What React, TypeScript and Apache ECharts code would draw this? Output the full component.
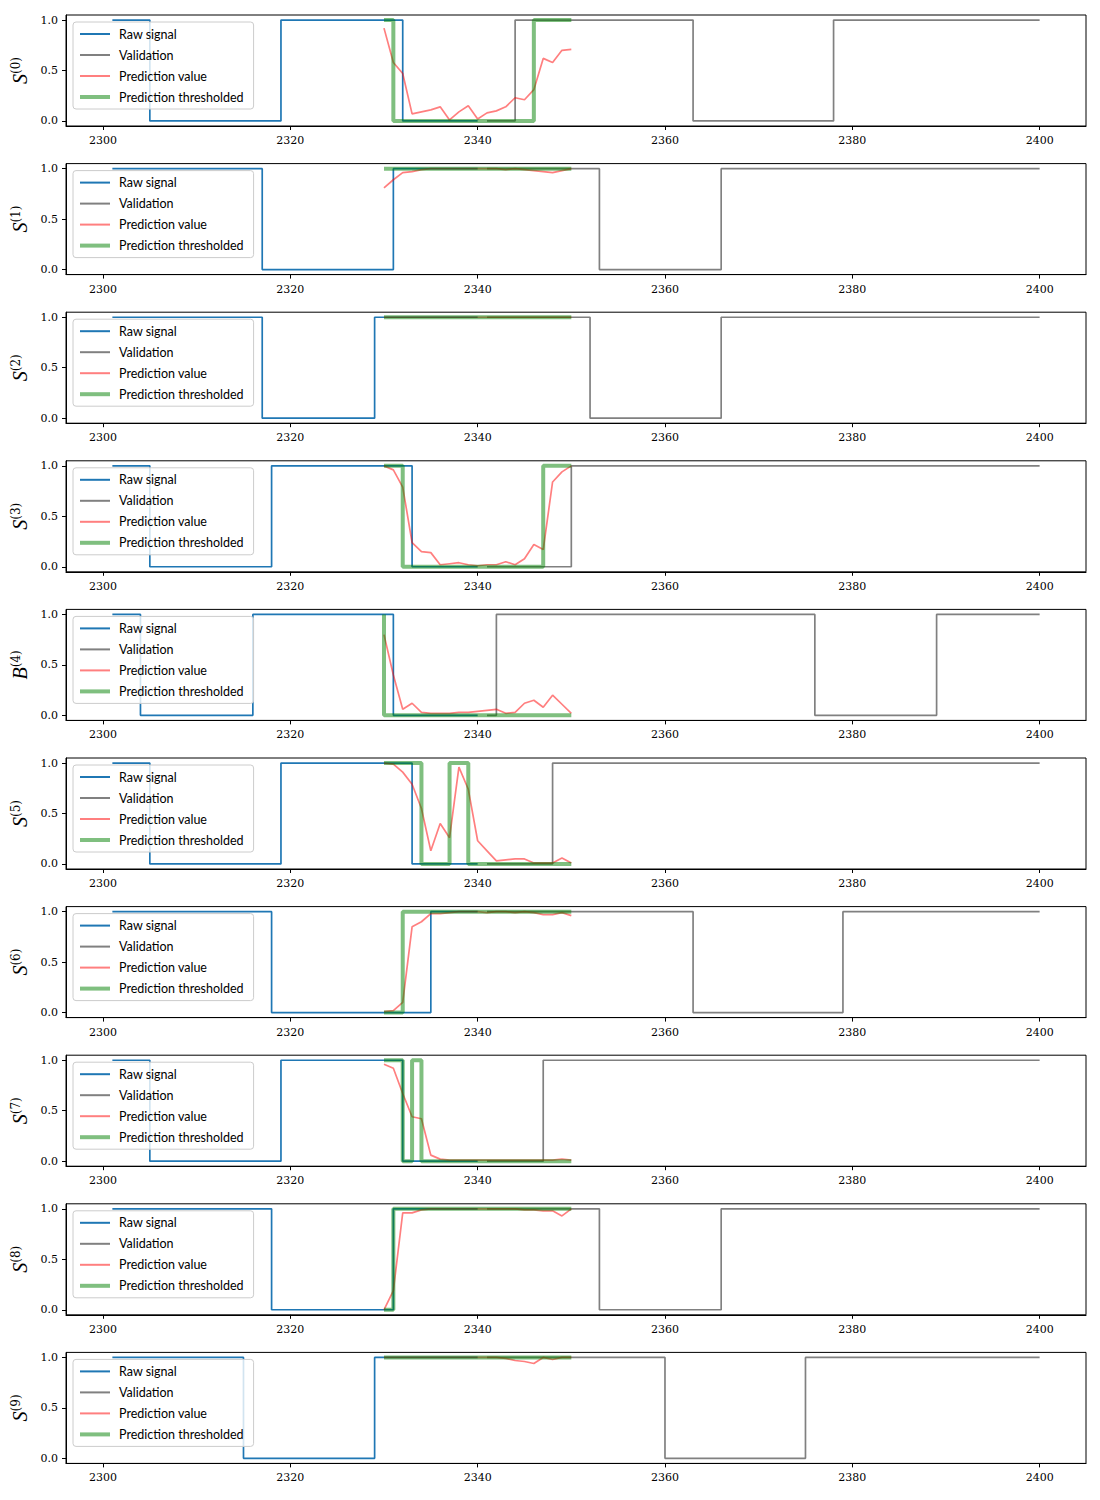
import React, { useEffect, useRef } from "react";
import * as echarts from "echarts";

const SERIES_NAMES = ["Raw signal", "Validation", "Prediction value", "Prediction thresholded"];
const X_TICKS = [2300, 2320, 2340, 2360, 2380, 2400];
const Y_TICKS = [0, 0.5, 1];
const PANEL_LETTERS = ["S", "S", "S", "S", "B", "S", "S", "S", "S", "S"];
const PANEL_INDICES = ["0", "1", "2", "3", "4", "5", "6", "7", "8", "9"];

// Raw signal: change points [x, level], held until next point
const RAW_STEPS: number[][][] = [
  [[2301, 1], [2305, 0], [2319, 1], [2332, 0], [2340, 0]],
  [[2301, 1], [2317, 0], [2331, 1], [2340, 1]],
  [[2301, 1], [2317, 0], [2329, 1], [2340, 1]],
  [[2301, 1], [2305, 0], [2318, 1], [2333, 0], [2340, 0]],
  [[2301, 1], [2304, 0], [2316, 1], [2331, 0], [2340, 0]],
  [[2301, 1], [2305, 0], [2319, 1], [2333, 0], [2340, 0]],
  [[2301, 1], [2318, 0], [2335, 1], [2340, 1]],
  [[2301, 1], [2305, 0], [2319, 1], [2332, 0], [2340, 0]],
  [[2301, 1], [2318, 0], [2331, 1], [2340, 1]],
  [[2301, 1], [2315, 0], [2329, 1], [2340, 1]],
];

// Validation: change points [x, level]
const VALIDATION_STEPS: number[][][] = [
  [[2341, 0], [2344, 1], [2363, 0], [2378, 1], [2400, 1]],
  [[2341, 1], [2353, 0], [2366, 1], [2400, 1]],
  [[2341, 1], [2352, 0], [2366, 1], [2400, 1]],
  [[2341, 0], [2350, 1], [2400, 1]],
  [[2341, 0], [2342, 1], [2376, 0], [2389, 1], [2400, 1]],
  [[2341, 0], [2348, 1], [2400, 1]],
  [[2341, 1], [2363, 0], [2379, 1], [2400, 1]],
  [[2341, 0], [2347, 1], [2400, 1]],
  [[2341, 1], [2353, 0], [2366, 1], [2400, 1]],
  [[2341, 1], [2360, 0], [2375, 1], [2400, 1]],
];

const PRED_X = [2330, 2331, 2332, 2333, 2334, 2335, 2336, 2337, 2338, 2339, 2340,
  2341, 2342, 2343, 2344, 2345, 2346, 2347, 2348, 2349, 2350];

const PRED_VALUE: number[][] = [
  [0.92, 0.58, 0.47, 0.07, 0.09, 0.11, 0.14, 0.01, 0.09, 0.15, 0.02, 0.08, 0.10, 0.14, 0.23, 0.21, 0.31, 0.62, 0.58, 0.70, 0.71],
  [0.81, 0.89, 0.96, 0.97, 0.99, 1.0, 1.0, 1.0, 1.0, 1.0, 1.0, 1.0, 1.0, 0.99, 1.0, 0.99, 0.98, 0.97, 0.96, 0.98, 1.0],
  [1.0, 1.0, 1.0, 1.0, 1.0, 1.0, 1.0, 1.0, 1.0, 1.0, 1.0, 1.0, 1.0, 1.0, 1.0, 1.0, 1.0, 1.0, 1.0, 1.0, 1.0],
  [1.0, 0.96, 0.79, 0.24, 0.15, 0.14, 0.02, 0.03, 0.04, 0.02, 0.01, 0.02, 0.02, 0.05, 0.02, 0.08, 0.22, 0.17, 0.84, 0.94, 1.0],
  [0.80, 0.40, 0.06, 0.12, 0.03, 0.02, 0.02, 0.02, 0.03, 0.03, 0.04, 0.05, 0.06, 0.02, 0.03, 0.12, 0.15, 0.08, 0.20, 0.11, 0.02],
  [1.0, 0.99, 0.91, 0.79, 0.55, 0.13, 0.40, 0.26, 0.96, 0.74, 0.23, 0.13, 0.03, 0.04, 0.05, 0.05, 0.01, 0.01, 0.01, 0.06, 0.01],
  [0.01, 0.02, 0.10, 0.85, 0.90, 0.98, 0.98, 0.99, 1.0, 1.0, 1.0, 0.99, 1.0, 1.0, 0.99, 1.0, 0.99, 0.97, 0.97, 0.99, 0.96],
  [0.96, 0.92, 0.67, 0.44, 0.42, 0.06, 0.02, 0.01, 0.01, 0.01, 0.01, 0.01, 0.01, 0.01, 0.01, 0.01, 0.01, 0.01, 0.01, 0.02, 0.01],
  [0.0, 0.19, 0.96, 0.96, 0.99, 1.0, 1.0, 1.0, 1.0, 1.0, 1.0, 1.0, 1.0, 1.0, 1.0, 0.99, 0.99, 0.98, 0.98, 0.93, 1.0],
  [1.0, 1.0, 1.0, 1.0, 1.0, 1.0, 1.0, 1.0, 1.0, 1.0, 1.0, 1.0, 1.0, 0.99, 0.97, 0.96, 0.94, 1.0, 0.98, 1.0, 1.0],
];

const PRED_THRESH: number[][] = [
  [1, 1, 0, 0, 0, 0, 0, 0, 0, 0, 0, 0, 0, 0, 0, 0, 0, 1, 1, 1, 1],
  [1, 1, 1, 1, 1, 1, 1, 1, 1, 1, 1, 1, 1, 1, 1, 1, 1, 1, 1, 1, 1],
  [1, 1, 1, 1, 1, 1, 1, 1, 1, 1, 1, 1, 1, 1, 1, 1, 1, 1, 1, 1, 1],
  [1, 1, 1, 0, 0, 0, 0, 0, 0, 0, 0, 0, 0, 0, 0, 0, 0, 0, 1, 1, 1],
  [1, 0, 0, 0, 0, 0, 0, 0, 0, 0, 0, 0, 0, 0, 0, 0, 0, 0, 0, 0, 0],
  [1, 1, 1, 1, 1, 0, 0, 0, 1, 1, 0, 0, 0, 0, 0, 0, 0, 0, 0, 0, 0],
  [0, 0, 0, 1, 1, 1, 1, 1, 1, 1, 1, 1, 1, 1, 1, 1, 1, 1, 1, 1, 1],
  [1, 1, 1, 0, 1, 0, 0, 0, 0, 0, 0, 0, 0, 0, 0, 0, 0, 0, 0, 0, 0],
  [0, 0, 1, 1, 1, 1, 1, 1, 1, 1, 1, 1, 1, 1, 1, 1, 1, 1, 1, 1, 1],
  [1, 1, 1, 1, 1, 1, 1, 1, 1, 1, 1, 1, 1, 1, 1, 1, 1, 1, 1, 1, 1],
];

const COLORS = ["#1f77b4", "#808080", "#ff0000", "#008000"];
const LINE_WIDTHS = [1.7, 1.7, 1.7, 4];
const LINE_OPACITY = [1, 1, 0.5, 0.5];
const TICK_FONT = "DejaVu Serif";
const LEGEND_FONT = "Lato";

function buildOption() {
  const grids: any[] = [];
  const xAxes: any[] = [];
  const yAxes: any[] = [];
  const legends: any[] = [];
  const series: any[] = [];
  const n = PANEL_LETTERS.length;
  const legendData = SERIES_NAMES.map((name, k) => ({
    name,
    lineStyle: { width: k === 3 ? 4 : 2, color: COLORS[k], opacity: LINE_OPACITY[k] },
    itemStyle: { opacity: 0 },
  }));
  for (let i = 0; i < n; i++) {
    const top = 15 + i * 148.6;
    grids.push({
      left: 66, top, width: 1020, height: 111,
      show: true, borderColor: "#000", borderWidth: 1, backgroundColor: "transparent",
    });
    xAxes.push({
      gridIndex: i, type: "value", min: 2296.05, max: 2404.95,
      splitLine: { show: false },
      axisLine: { show: true, onZero: false, lineStyle: { color: "#000", width: 1 } },
      axisTick: { show: true, length: 4, lineStyle: { color: "#000" }, customValues: X_TICKS },
      axisLabel: {
        customValues: X_TICKS, margin: 9, fontFamily: TICK_FONT, fontSize: 11, color: "#000",
        formatter: (v: number) => String(Math.round(v)),
      },
    });
    yAxes.push({
      gridIndex: i, type: "value", min: -0.05, max: 1.05,
      splitLine: { show: false },
      axisLine: { show: true, onZero: false, lineStyle: { color: "#000", width: 1 } },
      axisTick: { show: true, length: 4, lineStyle: { color: "#000" }, customValues: Y_TICKS },
      axisLabel: {
        customValues: Y_TICKS, margin: 8, fontFamily: TICK_FONT, fontSize: 11, color: "#000",
        formatter: (v: number) => v.toFixed(1),
      },
      name: `{s|${PANEL_LETTERS[i]}}{p|(${PANEL_INDICES[i]})}`,
      nameLocation: "middle",
      nameGap: 36,
      nameRotate: 90,
      nameTextStyle: {
        rich: {
          s: { fontFamily: "Liberation Serif", fontStyle: "italic", fontSize: 20, color: "#000" },
          p: { fontFamily: TICK_FONT, fontSize: 12, color: "#000", verticalAlign: "top" },
        },
      },
    });
    legends.push({
      left: 73, top: top + 7, orient: "vertical",
      data: legendData,
      itemWidth: 30, itemHeight: 14, itemGap: 7,
      padding: [5, 10, 5, 5],
      backgroundColor: "rgba(255,255,255,0.8)",
      borderColor: "#cccccc", borderWidth: 1, borderRadius: 3,
      textStyle: { fontFamily: LEGEND_FONT, fontSize: 12.5, color: "#000", padding: [0, 0, 0, 4], lineHeight: 14 },
      itemStyle: { opacity: 0 },
      selectedMode: false,
    });
    const common = { type: "line", xAxisIndex: i, yAxisIndex: i, symbol: "none", showSymbol: false, silent: true };
    series.push({
      ...common, name: SERIES_NAMES[0], step: "end", data: RAW_STEPS[i],
      lineStyle: { color: COLORS[0], width: LINE_WIDTHS[0] }, itemStyle: { color: COLORS[0] },
    });
    series.push({
      ...common, name: SERIES_NAMES[1], step: "end", data: VALIDATION_STEPS[i],
      lineStyle: { color: COLORS[1], width: LINE_WIDTHS[1] }, itemStyle: { color: COLORS[1] },
    });
    series.push({
      ...common, name: SERIES_NAMES[2], data: PRED_X.map((x, k) => [x, PRED_VALUE[i][k]]),
      lineStyle: { color: COLORS[2], width: LINE_WIDTHS[2], opacity: LINE_OPACITY[2] }, itemStyle: { color: COLORS[2] },
    });
    series.push({
      ...common, name: SERIES_NAMES[3], step: "start", data: PRED_X.map((x, k) => [x, PRED_THRESH[i][k]]),
      lineStyle: { color: COLORS[3], width: LINE_WIDTHS[3], opacity: LINE_OPACITY[3] }, itemStyle: { color: COLORS[3] },
    });
  }
  return {
    animation: false,
    backgroundColor: "#ffffff",
    grid: grids, xAxis: xAxes, yAxis: yAxes, legend: legends, series,
  };
}

export default function App() {
  const ref = useRef<HTMLDivElement>(null);
  useEffect(() => {
    if (!ref.current) return;
    const chart = echarts.init(ref.current, undefined, { renderer: "svg" });
    chart.setOption(buildOption() as any);
    return () => chart.dispose();
  }, []);
  return (
    <div
      ref={ref}
      style={{ position: "absolute", left: 0, top: 0, width: 1100, height: 1500, background: "#fff" }}
    />
  );
}
